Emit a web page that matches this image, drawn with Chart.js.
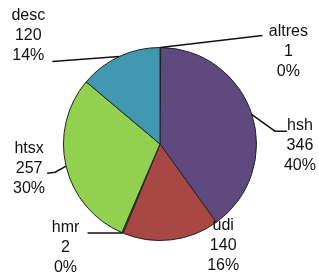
<!DOCTYPE html>
<html>
<head>
<meta charset="utf-8">
<script src="https://cdn.jsdelivr.net/npm/chart.js@4"></script>
<style>
  html, body { margin: 0; padding: 0; background: #fff; }
  #wrap { width: 319px; height: 275px; position: relative; }
</style>
</head>
<body>
<div id="wrap"><canvas id="pieChart"></canvas></div>
<script>
// Chart data
const categories = ["altres", "hsh", "udi", "hmr", "htsx", "desc"];
const values = [1, 346, 140, 2, 257, 120];
const colors = ["#4a4a8a", "#5e4a7e", "#a84845", "#8a6a3a", "#92d050", "#4298b0"];

// label placement relative to the outer middle of each slice
// text: [dx, dy] of the middle line, leader: points from the slice edge
const labelLayout = [
  { text: [128, 4], leader: [[102, -12]] },
  { text: [48, 31], leader: [[23, 16.5], [35, 16.5]] },
  { text: [52, 6], leader: [] },
  { text: [-57, 15], leader: [[-35, 0]] },
  { text: [-37, 2], leader: [[-11, 6], [-19, 7]] },
  { text: [-91, -21], leader: [[-67, 5]] },
];

const total = values.reduce((a, b) => a + b, 0);

const pieLabels = {
  id: "pieLabels",
  afterDatasetsDraw(chart) {
    const ctx = chart.ctx;
    const meta = chart.getDatasetMeta(0);
    ctx.save();
    ctx.font = "16px 'Liberation Sans', Arial, sans-serif";
    ctx.fillStyle = "#111";
    ctx.textAlign = "center";
    ctx.textBaseline = "middle";
    meta.data.forEach((arc, i) => {
      const p = arc.getProps(["x", "y", "startAngle", "endAngle", "outerRadius"], true);
      const mid = (p.startAngle + p.endAngle) / 2;
      const ox = p.x + Math.cos(mid) * p.outerRadius;
      const oy = p.y + Math.sin(mid) * p.outerRadius;
      const lay = labelLayout[i];

      if (lay.leader.length) {
        ctx.beginPath();
        ctx.strokeStyle = "#111";
        ctx.lineWidth = 1.5;
        ctx.moveTo(ox, oy);
        lay.leader.forEach(pt => ctx.lineTo(ox + pt[0], oy + pt[1]));
        ctx.stroke();
      }

      const tx = ox + lay.text[0];
      const ty = oy + lay.text[1];
      const pct = Math.round(values[i] / total * 100) + "%";
      ctx.fillText(categories[i], tx, ty - 20);
      ctx.fillText(String(values[i]), tx, ty);
      ctx.fillText(pct, tx, ty + 20);
    });
    ctx.restore();
  }
};

const ctx = document.getElementById("pieChart").getContext("2d");
new Chart(ctx, {
  type: "pie",
  data: {
    labels: categories,
    datasets: [
      {
        data: values,
        backgroundColor: colors,
        borderColor: "#222",
        borderWidth: 1,
      },
    ],
  },
  options: {
    responsive: true,
    maintainAspectRatio: false,
    animation: false,
    layout: {
      padding: { left: 63, right: 62, top: 47, bottom: 34 },
    },
    plugins: {
      legend: { display: false },
      tooltip: { enabled: false },
    },
  },
  plugins: [pieLabels],
});
</script>
</body>
</html>
